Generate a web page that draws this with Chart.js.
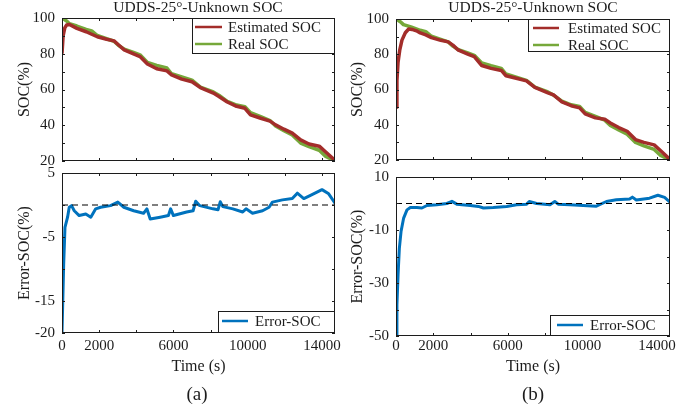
<!DOCTYPE html>
<html>
<head>
<meta charset="utf-8">
<script src="https://cdn.jsdelivr.net/npm/chart.js@4.4.1/dist/chart.umd.min.js"></script>
<style>
  body { margin: 0; background: #fff; }
  #wrap { position: relative; width: 699px; height: 410px; font-family: 'Liberation Serif', serif; color: #1c1c1c; overflow: hidden; }
  canvas { position: absolute; }
  .lbl { position: absolute; white-space: nowrap; transform: translateX(-50%); }
  .ttl { font-size: 15.5px; line-height: 16px; top: -1px; }
  .sub { font-size: 19px; line-height: 19px; top: 384px; }
</style>
</head>
<body>
<div id="wrap">
  <canvas id="socA" width="350" height="170" style="left:0;top:0"></canvas>
  <canvas id="socB" width="349" height="170" style="left:350px;top:0"></canvas>
  <canvas id="errA" width="350" height="250" style="left:0;top:160px"></canvas>
  <canvas id="errB" width="349" height="250" style="left:350px;top:160px"></canvas>
  <div class="lbl ttl" style="left:198px">UDDS-25°-Unknown SOC</div>
  <div class="lbl ttl" style="left:533px">UDDS-25°-Unknown SOC</div>
  <div class="lbl sub" style="left:197px">(a)</div>
  <div class="lbl sub" style="left:533px">(b)</div>
</div>
<script>
// time axis
const tEnd = 14700;
const xTicks = [0, 2000, 4000, 6000, 8000, 10000, 12000, 14000];
const xLabels = [0, 2000, 6000, 10000, 14000];

// SOC panels
const socTicks = [20, 30, 40, 50, 60, 70, 80, 90, 100];
const socLabels = [20, 40, 60, 80, 100];
const socTime = [0, 250, 400, 800, 1300, 1600, 1900, 2400, 2800, 3050, 3350, 3850, 4200, 4600, 5100, 5650, 5900, 6450, 7000, 7450, 8150, 8450, 8900, 9400, 9850, 10150, 10700, 11200, 11500, 11950, 12400, 12850, 13300, 13850, 14200, 14700];
const realSoc = [100, 98.3, 96.8, 95.5, 93.6, 92.8, 90.2, 88.4, 87.0, 84.6, 82.6, 80.8, 79.4, 75.1, 73.5, 72.0, 68.8, 67.0, 65.2, 61.3, 58.6, 56.8, 53.4, 51.3, 50.4, 47.0, 44.8, 42.6, 39.6, 37.0, 34.6, 30.0, 28.0, 26.0, 22.6, 20.0];
const estTimeA = [0, 60, 150, 250, 400, 800, 1300, 1600, 1900, 2400, 2800, 3050, 3350, 3850, 4200, 4600, 5100, 5650, 5900, 6450, 7000, 7450, 8150, 8450, 8900, 9400, 9850, 10150, 10700, 11200, 11500, 11950, 12400, 12850, 13300, 13850, 14200, 14700];
const estSocA = [80, 90, 94.5, 96.1, 96.4, 94.2, 92.3, 90.9, 89.5, 88.1, 87.2, 84.9, 82.2, 79.9, 78.4, 74.3, 71.6, 70.4, 68.2, 65.8, 64.3, 61.1, 58.0, 56.1, 53.0, 50.6, 49.5, 45.8, 43.9, 42.3, 40.2, 37.8, 35.6, 31.8, 29.5, 28.3, 25.0, 20.3];
const estTimeB = [0, 50, 110, 200, 320, 500, 680, 860, 1100, 1300, 1600, 1900, 2400, 2800, 3050, 3350, 3850, 4200, 4600, 5100, 5650, 5900, 6450, 7000, 7450, 8150, 8450, 8900, 9400, 9850, 10150, 10700, 11200, 11500, 11950, 12400, 12850, 13300, 13850, 14200, 14700];
const estSocB = [50, 65, 75.5, 82.3, 88, 92.2, 94.3, 94.1, 93.3, 92.1, 91.0, 89.4, 87.9, 87.0, 85.2, 82.3, 80.1, 78.6, 73.6, 72.0, 70.8, 67.8, 66.4, 64.9, 61.2, 58.1, 56.9, 53.0, 50.8, 49.6, 46.2, 43.9, 43.1, 41.0, 38.4, 36.3, 31.6, 30.0, 28.6, 25.2, 20.3];

// error panels
const errTicksA = [-20, -15, -10, -5, 0, 5];
const errLabelsA = [-20, -15, -5, 5];
const errTimeA = [0, 90, 160, 300, 390, 515, 660, 925, 1280, 1550, 1815, 2080, 2615, 3005, 3330, 3860, 4390, 4570, 4750, 5285, 5730, 5850, 6000, 6710, 7060, 7200, 7420, 8130, 8400, 8520, 8660, 9200, 9730, 9910, 10260, 10800, 11150, 11330, 11870, 12400, 12670, 13020, 13380, 14000, 14360, 14700];
const errSocA = [-20, -9.3, -3.5, -1.9, -0.35, -0.1, -0.9, -1.65, -1.4, -1.9, -0.6, -0.35, -0.1, 0.45, -0.35, -0.9, -1.3, -0.6, -2.2, -1.9, -1.65, -0.6, -1.65, -1.1, -0.9, 0.6, -0.1, -0.6, -0.75, 0.5, -0.25, -0.6, -1.1, -0.6, -1.3, -0.9, -0.35, 0.45, 0.8, 1.0, 1.85, 1.0, 1.5, 2.4, 1.75, 0.3];
const errTicksB = [-50, -40, -30, -20, -10, 0, 10];
const errLabelsB = [-50, -30, -10, 10];
const errTimeB = [0, 50, 110, 180, 270, 410, 590, 770, 1120, 1390, 1660, 2190, 2730, 3000, 3260, 3980, 4420, 4690, 5220, 5940, 6470, 7010, 7150, 7540, 8260, 8520, 8700, 9330, 10040, 10750, 11290, 11820, 12530, 12680, 12890, 13600, 14050, 14410, 14700];
const errSocB = [-50, -38.3, -27, -16.9, -10.6, -5.5, -2.4, -1.5, -1.5, -1.7, -0.75, -0.5, 0, 0.8, -0.25, -0.75, -1.1, -1.7, -1.5, -1.1, -0.5, -0.25, 0.75, 0, -0.5, 0.75, -0.25, -0.5, -0.75, -1.0, 0.75, 1.4, 1.7, 2.4, 1.3, 2.0, 3.1, 2.3, 0.5];
const zeroTime = [0, tEnd];
const zeroVal = [0, 0];

const family = 'Liberation Serif';
const ink = '#1c1c1c';
const red = '#A32D2A', green = '#76A83A', blue = '#0072BD';

const pts = (xs, ys) => xs.map((x, i) => ({ x, y: ys[i] }));

// keep the plot box exactly where the layout padding puts it
function noOverflow(s) {
  s.paddingTop = 0; s.paddingBottom = 0; s.paddingLeft = 0; s.paddingRight = 0;
}

function xAxis(o) {
  return {
    type: 'linear', min: 0, max: tEnd,
    afterBuildTicks: s => { s.ticks = xTicks.map(v => ({ value: v })); },
    afterFit: s => { s.height = o.h; noOverflow(s); },
    grid: { display: false, drawTicks: false }, border: { display: false },
    ticks: { display: o.labels, padding: o.pad || 0, autoSkip: false, maxRotation: 0, color: ink,
      font: { family, size: 15, lineHeight: 1 },
      callback: v => xLabels.includes(v) ? String(v) : '' },
    title: { display: o.labels, text: 'Time (s)', color: ink,
      font: { family, size: 16, lineHeight: 1 }, padding: { top: 0, bottom: o.titlePad || 0 } }
  };
}

function yAxis(o) {
  return {
    min: o.min, max: o.max,
    afterBuildTicks: s => { s.ticks = o.ticks.map(v => ({ value: v })); },
    afterFit: s => { s.width = o.w; noOverflow(s); },
    grid: { display: false, drawTicks: false }, border: { display: false },
    ticks: { padding: 7, autoSkip: false, color: ink, font: { family, size: 15, lineHeight: 1 },
      callback: v => o.labels.includes(v) ? String(v) : '' },
    title: { display: true, text: o.title, color: ink,
      font: { family, size: 16, lineHeight: 1 }, padding: { top: o.titlePad, bottom: 0 } }
  };
}

// box around the axes with inward ticks on all four sides
const frame = {
  id: 'frame',
  afterDatasetsDraw(chart) {
    const { ctx, chartArea: a, scales: { x, y } } = chart;
    ctx.save();
    ctx.strokeStyle = ink;
    ctx.lineWidth = 1;
    ctx.beginPath();
    x.ticks.forEach(t => {
      const px = Math.round(x.getPixelForValue(t.value)) + 0.5;
      ctx.moveTo(px, a.bottom); ctx.lineTo(px, a.bottom - 3);
      ctx.moveTo(px, a.top); ctx.lineTo(px, a.top + 3);
    });
    y.ticks.forEach(t => {
      const py = Math.round(y.getPixelForValue(t.value)) + 0.5;
      ctx.moveTo(a.left, py); ctx.lineTo(a.left + 3, py);
      ctx.moveTo(a.right, py); ctx.lineTo(a.right - 3, py);
    });
    ctx.stroke();
    ctx.strokeRect(Math.round(a.left) + 0.5, Math.round(a.top) + 0.5, Math.round(a.width) - 1, Math.round(a.height) - 1);
    ctx.restore();
  }
};

// MATLAB-like legend box in a corner of the axes
const boxLegend = {
  id: 'boxLegend',
  afterDraw(chart, args, o) {
    const { ctx, chartArea: a } = chart;
    const items = chart.data.datasets.filter(d => d.label);
    const left = Math.round(a.right - o.w);
    const top = Math.round(o.bottom ? a.bottom - o.h : a.top);
    ctx.save();
    ctx.fillStyle = '#fff';
    ctx.fillRect(left, top, o.w, o.h);
    ctx.strokeStyle = ink;
    ctx.lineWidth = 1;
    ctx.strokeRect(left + 0.5, top + 0.5, o.w - 1, o.h - 1);
    ctx.font = '15px "Liberation Serif"';
    ctx.textBaseline = 'middle';
    items.forEach((d, i) => {
      const cy = top + o.first + i * 17;
      ctx.strokeStyle = d.borderColor;
      ctx.lineWidth = 2.5;
      ctx.beginPath(); ctx.moveTo(left + o.l0, cy); ctx.lineTo(left + o.l1, cy); ctx.stroke();
      ctx.fillStyle = ink;
      ctx.fillText(d.label, left + o.tx, cy + 1);
    });
    ctx.restore();
  }
};

function makeChart(id, datasets, scales, padding, legend) {
  return new Chart(document.getElementById(id), {
    type: 'line',
    data: { datasets },
    options: {
      responsive: false, animation: false,
      layout: { padding },
      elements: { point: { radius: 0 }, line: { tension: 0, borderJoinStyle: 'round' } },
      plugins: { legend: { display: false }, tooltip: { enabled: false }, boxLegend: legend },
      scales
    },
    plugins: [frame, boxLegend]
  });
}

function socSets(estT, estV) {
  return [
    { label: 'Estimated SOC', data: pts(estT, estV), borderColor: red, borderWidth: 3.5 },
    { label: 'Real SOC', data: pts(socTime, realSoc), borderColor: green, borderWidth: 3.5 }
  ];
}
function errSets(t, v) {
  return [
    { label: '', data: pts(zeroTime, zeroVal), borderColor: '#000', borderWidth: 1.2, borderDash: [6, 4] },
    { label: 'Error-SOC', data: pts(t, v), borderColor: blue, borderWidth: 3 }
  ];
}

makeChart('socA', socSets(estTimeA, estSocA), {
  x: xAxis({ h: 9, labels: false }),
  y: yAxis({ min: 20, max: 100, ticks: socTicks, labels: socLabels, w: 62, title: 'SOC(%)', titlePad: 17 })
}, { top: 18, right: 15, left: 0, bottom: 0 },
{ w: 143, h: 36, bottom: false, first: 9, l0: 3, l1: 30, tx: 36 });

makeChart('socB', socSets(estTimeB, estSocB), {
  x: xAxis({ h: 10, labels: false }),
  y: yAxis({ min: 20, max: 100, ticks: socTicks, labels: socLabels, w: 46, title: 'SOC(%)', titlePad: 0 })
}, { top: 19, right: 29, left: 0, bottom: 0 },
{ w: 142, h: 33, bottom: false, first: 9, l0: 5, l1: 31, tx: 40 });

makeChart('errA', errSets(errTimeA, errSocA), {
  x: xAxis({ h: 77, labels: true, pad: 6, titlePad: 35 }),
  y: yAxis({ min: -20, max: 5, ticks: errTicksA, labels: errLabelsA, w: 62, title: 'Error-SOC(%)', titlePad: 17 })
}, { top: 13, right: 15, left: 0, bottom: 0 },
{ w: 117, h: 22, bottom: true, first: 10, l0: 4, l1: 30, tx: 37 });

makeChart('errB', errSets(errTimeB, errSocB), {
  x: xAxis({ h: 74, labels: true, pad: 3, titlePad: 35 }),
  y: yAxis({ min: -50, max: 10, ticks: errTicksB, labels: errLabelsB, w: 46, title: 'Error-SOC(%)', titlePad: 0 })
}, { top: 17, right: 29, left: 0, bottom: 0 },
{ w: 120, h: 21, bottom: true, first: 10, l0: 7, l1: 33, tx: 40 });
</script>
</body>
</html>
